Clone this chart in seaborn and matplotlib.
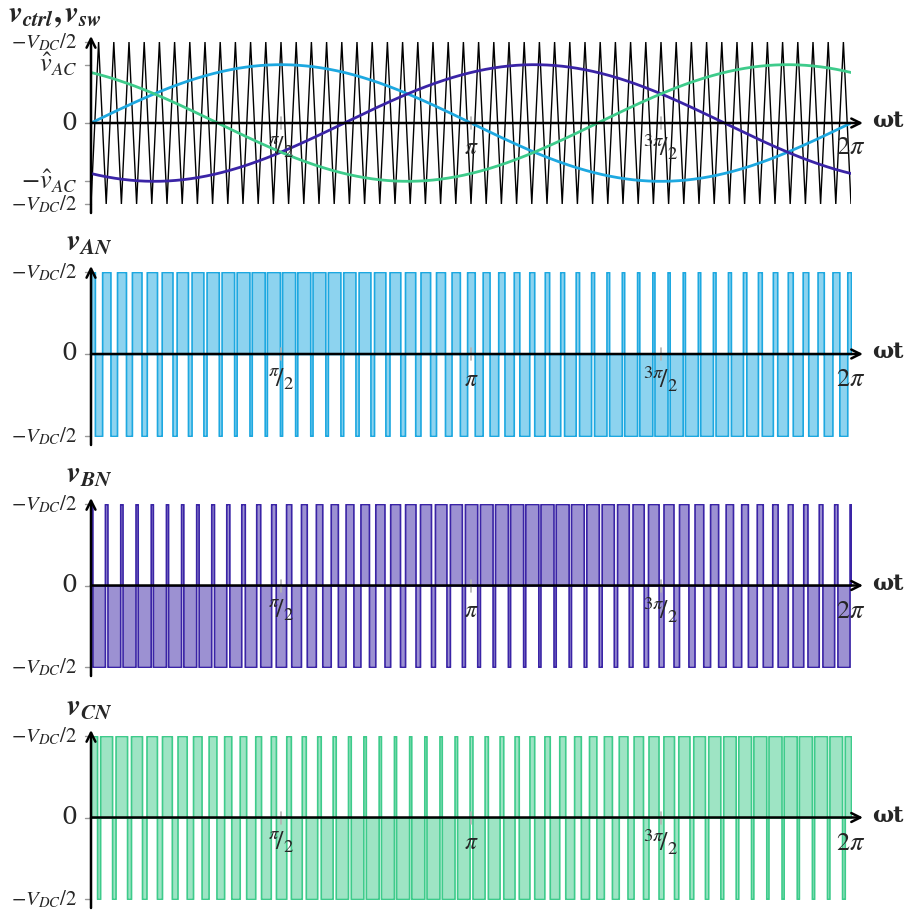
import numpy as np
import pandas as pd
import seaborn as sns
import matplotlib.pyplot as plt
from matplotlib.colors import to_rgba

# signal parameters
carrier_periods = 50          # triangle periods over one fundamental cycle
mod_index = 0.72              # v_AC peak / carrier peak
phase_names = ['A', 'B', 'C']
phase_shifts_deg = [0, -120, 120]
phase_colors = ['#1DA8E0', '#3A24A6', '#3ECB8B']

# tick positions / labels
x_ticks = [np.pi / 2, np.pi, 3 * np.pi / 2, 2 * np.pi]
x_tick_labels = [r'${}^{\pi}\!/_{2}$', r'$\pi$', r'${}^{3\pi}\!/_{2}$', r'$2\pi$']
x_tick_sizes = [19, 17, 19, 19]
top_y_ticks = [1, mod_index, 0, -mod_index, -1]
top_y_labels = [r'$-V_{DC}/2$', r'$\hat{v}_{AC}$', '0', r'$-\hat{v}_{AC}$', r'$-V_{DC}/2$']
top_y_sizes = [15, 19, 18, 19, 15]
pwm_y_ticks = [1, 0, -1]
pwm_y_labels = [r'$-V_{DC}/2$', '0', r'$-V_{DC}/2$']
pwm_y_sizes = [15, 18, 15]
panel_titles = [r'$\mathbfit{v}_{\mathbfit{ctrl}}\mathbf{,}\,\mathbfit{v}_{\mathbfit{sw}}$',
                r'$\mathbfit{v}_{\mathbfit{AN}}$',
                r'$\mathbfit{v}_{\mathbfit{BN}}$',
                r'$\mathbfit{v}_{\mathbfit{CN}}$']

sns.set_theme(style='white')
plt.rcParams['mathtext.fontset'] = 'stix'
plt.rcParams['font.family'] = ['DejaVu Serif']

W, H = 908, 910
fig = plt.figure(figsize=(W / 100, H / 100), dpi=100)

# pixel extents (top, bottom) of the +-1 band for each panel
panel_px = [(42, 204), (272, 436), (504, 667), (736, 899)]
title_px = [(8, 15), (66, 242), (66, 474), (66, 706)]
x0_px, x1_px = 91, 851
two_pi = 2 * np.pi
upx = two_pi / (x1_px - x0_px)   # data units per pixel in x


def make_axes(top, bottom):
    ax = fig.add_axes([x0_px / W, 1 - bottom / H, (x1_px - x0_px) / W, (bottom - top) / H])
    ax.set_xlim(0, two_pi)
    ax.set_ylim(-1, 1)
    ax.axis('off')
    return ax


def draw_frame(ax, top, bottom, yticks, ylabels, ysizes, tick_below):
    vpx = 2 / (bottom - top)   # data units per pixel in y
    # axes with arrow heads
    ax.annotate('', xy=(two_pi + 12 * upx, 0), xytext=(0, 0),
                arrowprops=dict(arrowstyle='->', lw=1.8, color='black', shrinkA=0, shrinkB=0,
                                mutation_scale=16), annotation_clip=False, zorder=6)
    ax.annotate('', xy=(0, 1 + 6 * vpx), xytext=(0, -1 - 9 * vpx),
                arrowprops=dict(arrowstyle='->', lw=1.8, color='black', shrinkA=0, shrinkB=0,
                                mutation_scale=16), annotation_clip=False, zorder=6)
    ax.text(two_pi + 21 * upx, 2 * vpx, 'ωt', fontsize=16, fontweight='bold',
            family='DejaVu Serif', ha='left', va='center')
    # y ticks
    for yv, lab, fs in zip(yticks, ylabels, ysizes):
        ax.plot([-6 * upx, 0], [yv, yv], color='0.6', lw=1, clip_on=False)
        ax.text(-14 * upx, yv, lab, fontsize=fs, ha='right', va='center')
    # x ticks
    for xv, lab, fs in zip(x_ticks, x_tick_labels, x_tick_sizes):
        if xv < two_pi:
            ax.plot([xv, xv], [-6 * vpx, 6 * vpx], color='0.7', lw=1.2, zorder=5)
        ax.text(xv, -tick_below * vpx, lab, fontsize=fs, ha='center', va='center', zorder=7)


t = np.linspace(0, two_pi, 40001)
cyc = (carrier_periods * t / two_pi) % 1.0
carrier = 1 - 4 * np.abs(cyc - 0.5)

# carrier vertices for the top panel
tc = np.arange(2 * carrier_periods + 1) * np.pi / carrier_periods
vc = np.where(np.arange(2 * carrier_periods + 1) % 2 == 0, -1.0, 1.0)

refs = {}
for name, sh in zip(phase_names, phase_shifts_deg):
    refs[name] = mod_index * np.sin(t + np.deg2rad(sh))

# top panel: carrier + references
top, bottom = panel_px[0]
ax = make_axes(top, bottom)
sns.lineplot(x=tc, y=vc, ax=ax, color='black', lw=1.0, zorder=2)
ts = t[::20]
df = pd.DataFrame({'t': np.tile(ts, 3),
                   'v': np.concatenate([refs[n][::20] for n in phase_names]),
                   'phase': np.repeat(phase_names, len(ts))})
sns.lineplot(data=df, x='t', y='v', hue='phase', palette=phase_colors, ax=ax,
             lw=2.0, legend=False, zorder=3, sort=False, estimator=None)
ax.axis('off')
draw_frame(ax, top, bottom, top_y_ticks, top_y_labels, top_y_sizes, 24)

# PWM panels
for i, (name, col) in enumerate(zip(phase_names, phase_colors), start=1):
    top, bottom = panel_px[i]
    ax = make_axes(top, bottom)
    pwm = np.where(refs[name] > carrier, 1.0, -1.0)
    ax.fill_between(t, 0, pwm, facecolor=to_rgba(col, 0.5), edgecolor=col, lw=1.2, zorder=2)
    draw_frame(ax, top, bottom, pwm_y_ticks, pwm_y_labels, pwm_y_sizes, 25)

for (tx, ty), title in zip(title_px, panel_titles):
    fig.text(tx / W, 1 - ty / H, title, fontsize=22, ha='left', va='center')

fig.savefig('out.png', dpi=100)
